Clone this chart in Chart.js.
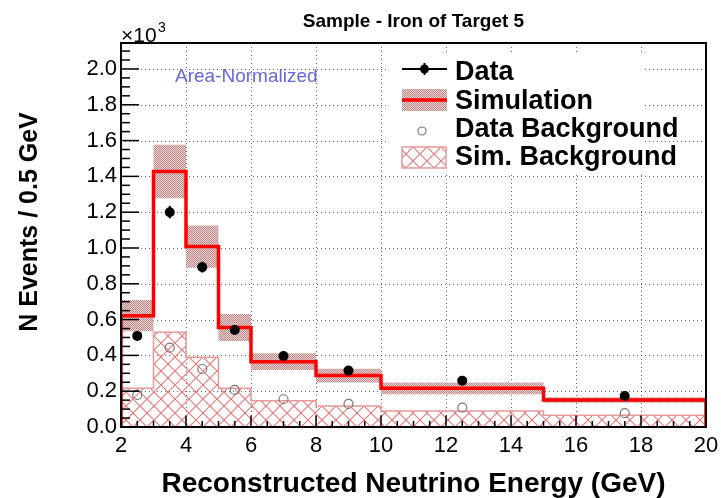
<!DOCTYPE html>
<html><head><meta charset="utf-8">
<script src="https://cdn.jsdelivr.net/npm/chart.js@4"></script>
<style>html,body{margin:0;padding:0;background:#fff}canvas{display:block}</style>
</head><body>
<canvas id="c" width="721" height="498"></canvas>
<script>
// ---- data (N events, plotted in units of 10^3) ----
const binEdges = [2, 3, 4, 5, 6, 8, 10, 15, 20];
const binCenters = [2.5, 3.5, 4.5, 5.5, 7, 9, 12.5, 17.5];
const dataValues = [509, 1200, 893, 542, 397, 315, 259, 173];
const dataErrors = [25, 35, 30, 22, 18, 16, 12, 10];
const simulation = [622, 1427, 1008, 556, 365, 287, 216, 151];
const simulationErr = [87, 149, 118, 75, 47, 38, 33, 15];
const dataBackground = [179, 443, 324, 207, 155, 129, 108, 77];
const simBackground = [216, 529, 390, 216, 147, 117, 90, 65];
const xTickValues = [2, 4, 6, 8, 10, 12, 14, 16, 18, 20];
const yTickValues = [0, 200, 400, 600, 800, 1000, 1200, 1400, 1600, 1800, 2000];
const legendLabels = ["Data", "Simulation", "Data Background", "Sim. Background"];
const titleText = "Sample - Iron of Target 5";
const xTitle = "Reconstructed Neutrino Energy (GeV)";
const yTitle = "N Events / 0.5 GeV";
const noteText = "Area-Normalized";

const FONT = '"Liberation Sans", Arial, Helvetica, sans-serif';

function steps(vals, closed) {
  const pts = [];
  if (closed) pts.push({x: binEdges[0], y: 0});
  vals.forEach((v, i) => pts.push({x: binEdges[i], y: v}));
  pts.push({x: binEdges[binEdges.length - 1], y: vals[vals.length - 1]});
  if (closed) pts.push({x: binEdges[binEdges.length - 1], y: 0});
  return pts;
}

const canvas = document.getElementById('c');
const ctx0 = canvas.getContext('2d');

// hatch pattern (sim. background)
const hc = document.createElement('canvas'); hc.width = 14; hc.height = 14;
const hg = hc.getContext('2d');
hg.strokeStyle = '#e47878'; hg.lineWidth = 1.1;
hg.beginPath();
hg.moveTo(-2, -2); hg.lineTo(16, 16);
hg.moveTo(16, -2); hg.lineTo(-2, 16);
hg.stroke();
const hatchPattern = ctx0.createPattern(hc, 'repeat');

// dotted band pattern (simulation uncertainty)
const bc = document.createElement('canvas'); bc.width = 2; bc.height = 2;
const bg = bc.getContext('2d');
bg.fillStyle = '#e8d2d2'; bg.fillRect(0, 0, 2, 2);
bg.fillStyle = '#be8888'; bg.fillRect(0, 0, 1, 1); bg.fillRect(1, 1, 1, 1);
const bandPattern = ctx0.createPattern(bc, 'repeat');

const upper = simulation.map((v, i) => v + simulationErr[i]);
const lower = simulation.map((v, i) => v - simulationErr[i]);

function line(ctx, x1, y1, x2, y2) { ctx.beginPath(); ctx.moveTo(x1, y1); ctx.lineTo(x2, y2); ctx.stroke(); }

const rootPlugin = {
  id: 'rootStyle',
  beforeDatasetsDraw(chart) {
    const {ctx, chartArea: a, scales: {x, y}} = chart;
    ctx.save();
    ctx.strokeStyle = 'rgba(0,0,0,0.6)'; ctx.lineWidth = 1; ctx.setLineDash([1, 3]);
    xTickValues.forEach(v => {
      if (v <= x.min || v >= x.max) return;
      const px = Math.round(x.getPixelForValue(v)) + 0.5;
      line(ctx, px, a.top, px, a.bottom);
    });
    yTickValues.forEach(v => {
      if (v <= y.min || v >= y.max) return;
      const py = Math.round(y.getPixelForValue(v)) + 0.5;
      line(ctx, a.left, py, a.right, py);
    });
    ctx.setLineDash([]);
    // legend box background
    ctx.fillStyle = '#fff';
    ctx.fillRect(387, 55, 256, 117);
    ctx.restore();
  },
  afterDatasetsDraw(chart) {
    const {ctx, chartArea: a, scales: {x, y}} = chart;
    ctx.save();
    // data error bars
    ctx.strokeStyle = '#000'; ctx.lineWidth = 2;
    binCenters.forEach((c, i) => {
      const px = x.getPixelForValue(c);
      line(ctx, px, y.getPixelForValue(dataValues[i] - dataErrors[i]), px, y.getPixelForValue(dataValues[i] + dataErrors[i]));
    });
    // frame
    ctx.lineWidth = 2;
    ctx.strokeRect(a.left, a.top, a.right - a.left, a.bottom - a.top);
    // inner ticks
    ctx.lineWidth = 1.5;
    for (let v = 0; v <= y.max; v += 50) {
      const py = y.getPixelForValue(v);
      line(ctx, a.left, py, a.left + (v % 200 === 0 ? 18 : 9), py);
    }
    for (let v = x.min; v <= x.max + 1e-9; v += 0.5) {
      const px = x.getPixelForValue(v);
      line(ctx, px, a.bottom, px, a.bottom - (v % 2 === 0 ? 11.5 : 6));
    }
    ctx.restore();
  },
  afterDraw(chart) {
    const {ctx, chartArea: a} = chart;
    ctx.save();
    ctx.fillStyle = '#000';
    // title
    ctx.font = 'bold 19px ' + FONT; ctx.textAlign = 'center'; ctx.textBaseline = 'alphabetic';
    ctx.fillText(titleText, (a.left + a.right) / 2, 27);
    // x title
    ctx.font = 'bold 28px ' + FONT;
    ctx.fillText(xTitle, (a.left + a.right) / 2, 492);
    // y title
    ctx.save();
    ctx.translate(37, 222); ctx.rotate(-Math.PI / 2);
    ctx.font = 'bold 25px ' + FONT;
    ctx.fillText(yTitle, 0, 0);
    ctx.restore();
    // x10^3
    ctx.textAlign = 'left';
    ctx.font = '21px ' + FONT;
    ctx.fillText('\u00d710', 121, 42);
    ctx.font = '14px ' + FONT;
    ctx.fillText('3', 158, 32);
    // area normalized
    ctx.font = '19px ' + FONT; ctx.fillStyle = '#6666dd';
    ctx.fillText(noteText, 175, 82);
    // legend
    const sx = 402, sw = 45, tx = 455;
    const base = [80, 109, 137, 165];
    ctx.fillStyle = '#000'; ctx.font = 'bold 27px ' + FONT;
    legendLabels.forEach((t, i) => ctx.fillText(t, tx, base[i]));
    // Data symbol
    ctx.strokeStyle = '#000'; ctx.lineWidth = 2;
    line(ctx, sx, 69, sx + sw, 69);
    line(ctx, sx + sw / 2, 63, sx + sw / 2, 75);
    ctx.beginPath(); ctx.arc(sx + sw / 2, 69, 4.5, 0, Math.PI * 2); ctx.fill();
    // Simulation symbol
    ctx.fillStyle = bandPattern; ctx.fillRect(sx, 89, sw, 22);
    ctx.strokeStyle = '#ff0000'; ctx.lineWidth = 3.5;
    line(ctx, sx, 100, sx + sw, 100);
    // Data background symbol
    ctx.strokeStyle = '#777'; ctx.lineWidth = 1.2;
    ctx.beginPath(); ctx.arc(sx + 20, 131, 4, 0, Math.PI * 2); ctx.stroke();
    // Sim background symbol
    ctx.fillStyle = hatchPattern; ctx.fillRect(sx, 147, sw - 1, 21);
    ctx.strokeStyle = '#e49a9a'; ctx.lineWidth = 1.5;
    ctx.strokeRect(sx, 147, sw - 1, 21);
    ctx.restore();
  }
};

new Chart(canvas, {
  type: 'line',
  data: {
    datasets: [
      { label: legendLabels[0], data: binCenters.map((c, i) => ({x: c, y: dataValues[i]})),
        showLine: false, pointRadius: 5, pointBackgroundColor: '#000', pointBorderColor: '#000', pointBorderWidth: 0, order: 0 },
      { label: legendLabels[2], data: binCenters.map((c, i) => ({x: c, y: dataBackground[i]})),
        showLine: false, pointRadius: 4.5, pointBackgroundColor: 'rgba(0,0,0,0)', pointBorderColor: '#777', pointBorderWidth: 1.2, order: 1 },
      { label: legendLabels[1], data: steps(simulation, true), stepped: true, borderColor: '#ff0000', borderWidth: 3.5,
        pointRadius: 0, fill: false, order: 2 },
      { label: legendLabels[3], data: steps(simBackground, true), stepped: true, borderColor: '#e49a9a', borderWidth: 1.5,
        backgroundColor: hatchPattern, pointRadius: 0, fill: 'origin', order: 3 },
      { label: 'band-upper', data: steps(upper, false), stepped: true, borderColor: 'rgba(0,0,0,0)', borderWidth: 0,
        pointRadius: 0, fill: false, order: 4 },
      { label: 'band-lower', data: steps(lower, false), stepped: true, borderColor: 'rgba(0,0,0,0)', borderWidth: 0,
        backgroundColor: bandPattern, pointRadius: 0, fill: '-1', order: 5 }
    ]
  },
  options: {
    responsive: false, animation: false, devicePixelRatio: 1,
    layout: { padding: { top: 43, right: 15, left: 0, bottom: 0 } },
    plugins: { legend: { display: false }, title: { display: false }, tooltip: { enabled: false } },
    scales: {
      x: { type: 'linear', min: 2, max: 20,
        grid: { display: false, drawTicks: false }, border: { display: false },
        ticks: { stepSize: 2, maxRotation: 0, autoSkip: false, padding: 6, color: '#000', font: { family: FONT, size: 22 } },
        afterFit(s) { s.height = 71; s.paddingLeft = 0; s.paddingRight = 0; } },
      y: { type: 'linear', min: 0, max: 2145,
        grid: { display: false, drawTicks: false }, border: { display: false },
        ticks: { stepSize: 200, includeBounds: false, padding: 4, color: '#000', font: { family: FONT, size: 22 },
          callback: v => (v / 1000).toFixed(1) },
        afterFit(s) { s.width = 121; s.paddingTop = 0; s.paddingBottom = 0; } }
    }
  },
  plugins: [rootPlugin]
});
</script>
</body></html>
